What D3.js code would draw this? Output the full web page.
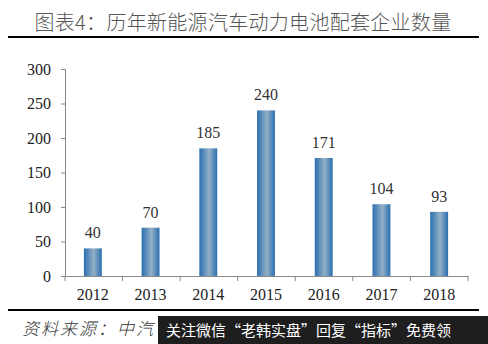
<!DOCTYPE html>
<html lang="zh">
<head>
  <meta charset="UTF-8">
  <title>历年新能源汽车动力电池配套企业数量</title>
  <script src="https://d3js.org/d3.v7.min.js"></script>
  <style>
    body { margin: 0; background: #fff; }
    svg { display: block; }
    .tick text { font-family: "Liberation Serif", serif; font-size: 16px; fill: #222; }
  </style>
</head>
<body>
  <div id="chart"></div>
  <script>
    const years = ["2012", "2013", "2014", "2015", "2016", "2017", "2018"];
    const counts = [40, 70, 185, 240, 171, 104, 93];
    const yTicks = [0, 50, 100, 150, 200, 250, 300];

    const width = 488, height = 344;
    const margin = { top: 69, right: 20, bottom: 68, left: 64 };

    const svg = d3.select("#chart").append("svg")
      .attr("width", width)
      .attr("height", height);

    const defs = svg.append("defs");
    const grad = defs.append("linearGradient")
      .attr("id", "barGrad")
      .attr("x1", "0%").attr("x2", "100%").attr("y1", "0%").attr("y2", "0%");
    grad.append("stop").attr("offset", "0%").attr("stop-color", "#2a6fb0");
    grad.append("stop").attr("offset", "55%").attr("stop-color", "#93b0c6");
    grad.append("stop").attr("offset", "100%").attr("stop-color", "#2a6fb0");

    // title + rules
    svg.append("text")
      .attr("x", 243).attr("y", 30)
      .attr("text-anchor", "middle")
      .style("font-family", "'Noto Sans CJK SC', sans-serif")
      .style("font-size", "20px")
      .style("letter-spacing", "0.3px")
      .style("font-weight", "300")
      .style("fill", "#555")
      .text("图表4：历年新能源汽车动力电池配套企业数量");
    svg.append("line")
      .attr("x1", 8).attr("x2", 479).attr("y1", 37).attr("y2", 37)
      .attr("stroke", "#000").attr("stroke-width", 2);
    svg.append("line")
      .attr("x1", 8).attr("x2", 479).attr("y1", 310).attr("y2", 310)
      .attr("stroke", "#000").attr("stroke-width", 2);

    const x = d3.scaleBand()
      .domain(years)
      .range([margin.left, 468])
      .paddingInner(0.69)
      .paddingOuter(0.345);

    const y = d3.scaleLinear()
      .domain([0, 300])
      .range([276, margin.top]);

    // y axis
    const yAxis = svg.append("g")
      .attr("transform", `translate(${margin.left + 1},0)`)
      .call(d3.axisLeft(y).tickValues(yTicks).tickSize(4).tickPadding(10));
    yAxis.select(".domain").attr("stroke", "#888");
    yAxis.selectAll(".tick line").attr("stroke", "#888");

    // x axis with ticks on category boundaries
    const xAxis = svg.append("g")
      .attr("transform", `translate(0,${y(0)})`)
      .call(d3.axisBottom(x).tickSize(0).tickPadding(13));
    xAxis.select(".domain").attr("stroke", "#888");
    const x0 = margin.left + 1, x1 = 468;
    xAxis.selectAll(".bound")
      .data(d3.range(years.length + 1))
      .enter().append("line")
      .attr("class", "bound")
      .attr("x1", i => x0 + i * (x1 - x0) / years.length)
      .attr("x2", i => x0 + i * (x1 - x0) / years.length)
      .attr("y1", 0).attr("y2", 5)
      .attr("stroke", "#888");

    // bars
    svg.append("g")
      .selectAll("rect")
      .data(counts)
      .enter().append("rect")
      .attr("x", (d, i) => x(years[i]))
      .attr("y", d => y(d))
      .attr("width", x.bandwidth())
      .attr("height", d => y(0) - y(d))
      .attr("fill", "url(#barGrad)");

    // value labels
    svg.append("g")
      .selectAll("text")
      .data(counts)
      .enter().append("text")
      .attr("x", (d, i) => x(years[i]) + x.bandwidth() / 2)
      .attr("y", d => y(d) - 10)
      .attr("text-anchor", "middle")
      .style("font-family", "'Liberation Serif', serif")
      .style("font-size", "16px")
      .style("fill", "#333")
      .text(d => d);

    // source line
    svg.append("text")
      .attr("x", 22).attr("y", 335)
      .style("font-family", "'Noto Sans CJK SC', sans-serif")
      .style("font-size", "17px")
      .style("letter-spacing", "2px")
      .style("font-style", "italic")
      .style("font-weight", "300")
      .style("fill", "#333")
      .text("资料来源：中汽");

    // watermark overlay
    svg.append("rect")
      .attr("x", 158).attr("y", 316)
      .attr("width", 330).attr("height", 28)
      .attr("fill", "#1e1e1e");
    svg.append("text")
      .attr("x", 166).attr("y", 336)
      .style("font-family", "'Noto Sans CJK SC', sans-serif")
      .style("font-size", "15px")
      .style("fill", "#fff")
      .text("关注微信“老韩实盘”回复“指标”免费领");
  </script>
</body>
</html>
